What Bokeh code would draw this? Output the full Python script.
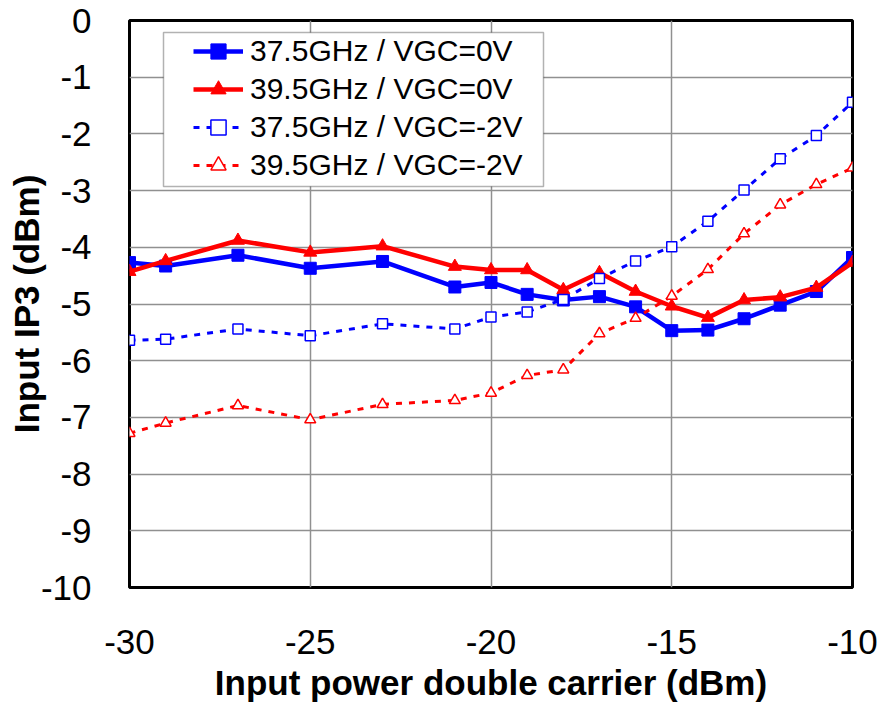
from bokeh.plotting import figure
from bokeh.models import FixedTicker, Legend, LegendItem, BoxAnnotation, Range1d, PrintfTickFormatter
from bokeh.embed import file_html
from bokeh.resources import INLINE

# ---- data ----
x_dbm = [-30, -29, -27, -25, -23, -21, -20, -19, -18, -17, -16, -15, -14, -13, -12, -11, -10]
ip3_375_0v = [-4.27, -4.33, -4.14, -4.37, -4.25, -4.70, -4.62, -4.83, -4.93, -4.87, -5.05, -5.47, -5.46, -5.26, -5.02, -4.78, -4.18]
ip3_395_0v = [-4.43, -4.24, -3.88, -4.09, -3.98, -4.34, -4.40, -4.40, -4.75, -4.45, -4.78, -5.04, -5.24, -4.93, -4.88, -4.71, -4.27]
ip3_375_m2v = [-5.64, -5.62, -5.44, -5.56, -5.35, -5.44, -5.23, -5.14, -4.92, -4.55, -4.24, -3.99, -3.54, -2.99, -2.44, -2.03, -1.44]
ip3_395_m2v = [-7.28, -7.10, -6.79, -7.04, -6.77, -6.70, -6.57, -6.26, -6.16, -5.52, -5.25, -4.86, -4.39, -3.76, -3.25, -2.89, -2.60]

labels = ["37.5GHz / VGC=0V", "39.5GHz / VGC=0V", "37.5GHz / VGC=-2V", "39.5GHz / VGC=-2V"]
x_ticks = [-30, -25, -20, -15, -10]
y_ticks = [0, -1, -2, -3, -4, -5, -6, -7, -8, -9, -10]

FONT = "Liberation Sans"

p = figure(width=882, height=706, output_backend="svg", toolbar_location=None,
           x_range=Range1d(-30, -10), y_range=Range1d(-10, 0),
           min_border_left=129, min_border_right=30, min_border_top=20, min_border_bottom=119,
           x_axis_label="Input power double carrier (dBm)", y_axis_label="Input IP3 (dBm)")

p.background_fill_color = "white"
p.border_fill_color = "white"
p.outline_line_color = "black"
p.outline_line_width = 3

for ax in (p.xaxis[0], p.yaxis[0]):
    ax.axis_line_color = None
    ax.major_tick_in = 0
    ax.major_tick_out = 0
    ax.minor_tick_in = 0
    ax.minor_tick_out = 0
    ax.formatter = PrintfTickFormatter(format="%d")
    ax.major_label_text_font = FONT
    ax.major_label_text_font_size = "35px"
    ax.major_label_text_color = "black"
    ax.axis_label_text_font = FONT
    ax.axis_label_text_font_size = "35px"
    ax.axis_label_text_font_style = "bold"
    ax.axis_label_text_color = "black"

p.xaxis.ticker = FixedTicker(ticks=x_ticks)
p.yaxis.ticker = FixedTicker(ticks=y_ticks)
p.xaxis.major_label_standoff = 42
p.xaxis.axis_label_standoff = 6
p.yaxis.major_label_standoff = 38
p.yaxis.axis_label_standoff = -8

p.xgrid.ticker = FixedTicker(ticks=x_ticks)
p.ygrid.ticker = FixedTicker(ticks=y_ticks)
p.grid.grid_line_color = "#909090"
p.grid.grid_line_width = 1.5

blue = "#0000FF"
red = "#FF0000"

l1 = p.line(x_dbm, ip3_375_0v, line_color=blue, line_width=4.5)
m1 = p.scatter(x_dbm, ip3_375_0v, marker="square", size=12, fill_color=blue, line_color=blue)
l2 = p.line(x_dbm, ip3_395_0v, line_color=red, line_width=4.5)
m2 = p.scatter(x_dbm, ip3_395_0v, marker="triangle", size=13, fill_color=red, line_color=red)
l3 = p.line(x_dbm, ip3_375_m2v, line_color=blue, line_width=3, line_dash="6 7")
m3 = p.scatter(x_dbm, ip3_375_m2v, marker="square", size=10, fill_color="white", line_color=blue, line_width=1.5)
l4 = p.line(x_dbm, ip3_395_m2v, line_color=red, line_width=3, line_dash="6 7")
m4 = p.scatter(x_dbm, ip3_395_m2v, marker="triangle", size=11, fill_color="white", line_color=red, line_width=1.5)

box = BoxAnnotation(left=163, right=543, top=32, bottom=186,
                    left_units="canvas", right_units="canvas", top_units="canvas", bottom_units="canvas",
                    fill_color="white", fill_alpha=1.0, line_color="black", line_width=1.5)
p.add_layout(box)

legend = Legend(items=[LegendItem(label=labels[0], renderers=[l1, m1]),
                       LegendItem(label=labels[1], renderers=[l2, m2]),
                       LegendItem(label=labels[2], renderers=[l3, m3]),
                       LegendItem(label=labels[3], renderers=[l4, m4])],
                location=(62, 401), padding=2, margin=0, spacing=0,
                glyph_width=50, glyph_height=38, label_height=38, label_standoff=7,
                label_text_font=FONT, label_text_font_size="30px", label_text_color="black",
                border_line_alpha=0, background_fill_alpha=0)
p.add_layout(legend)

open("out.html", "w").write(file_html(p, INLINE))
